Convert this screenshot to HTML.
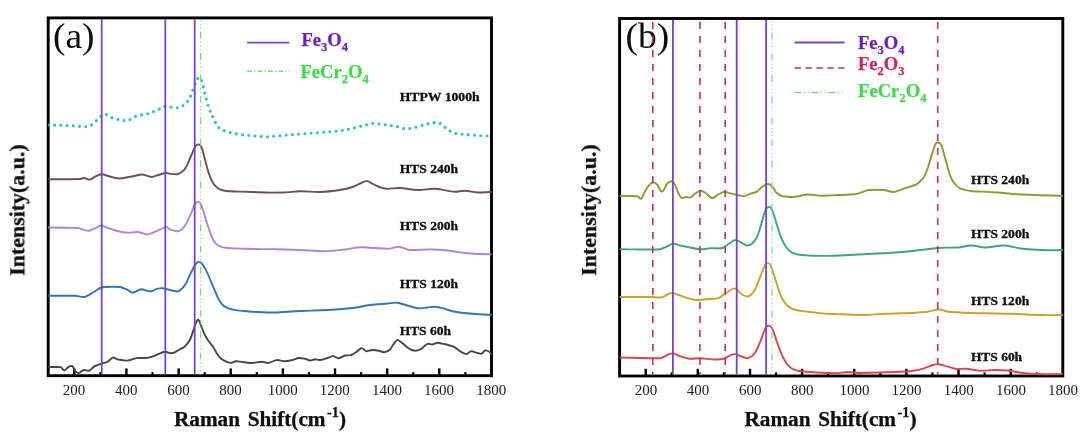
<!DOCTYPE html>
<html lang="en"><head><meta charset="utf-8"><title>Raman spectra</title>
<style>html,body{margin:0;padding:0;background:#fff;overflow:hidden}svg{display:block}</style>
</head><body>
<svg width="1080" height="434" viewBox="0 0 1080 434">
<rect width="1080" height="434" fill="#fff"/>
<defs><clipPath id="cl"><rect x="48.2" y="17.9" width="443.3" height="357.8"/></clipPath><clipPath id="cr"><rect x="619.6" y="18.5" width="443.2" height="357.5"/></clipPath><filter id="soft" x="0" y="0" width="1080" height="434" filterUnits="userSpaceOnUse"><feGaussianBlur stdDeviation="0.45"/></filter></defs>
<g filter="url(#soft)">
<g id="left">
<g fill="#000"><rect x="73.1" y="368.4" width="2.4" height="6.5"/><rect x="125.2" y="368.4" width="2.4" height="6.5"/><rect x="177.4" y="368.4" width="2.4" height="6.5"/><rect x="229.5" y="368.4" width="2.4" height="6.5"/><rect x="281.7" y="368.4" width="2.4" height="6.5"/><rect x="333.8" y="368.4" width="2.4" height="6.5"/><rect x="386.0" y="368.4" width="2.4" height="6.5"/><rect x="438.1" y="368.4" width="2.4" height="6.5"/><rect x="99.3" y="372.1" width="2.2" height="3.0"/><rect x="151.4" y="372.1" width="2.2" height="3.0"/><rect x="203.6" y="372.1" width="2.2" height="3.0"/><rect x="255.7" y="372.1" width="2.2" height="3.0"/><rect x="307.9" y="372.1" width="2.2" height="3.0"/><rect x="360.0" y="372.1" width="2.2" height="3.0"/><rect x="412.2" y="372.1" width="2.2" height="3.0"/><rect x="464.3" y="372.1" width="2.2" height="3.0"/></g>
<rect x="48.2" y="17.9" width="443.3" height="357.8" fill="none" stroke="#000" stroke-width="2.9"/>
<path d="M48.3 366.9C50.5 366.9 52.8 367.0 55.0 367.0C56.9 367.0 58.7 367.1 60.6 367.1C61.9 367.1 63.1 370.7 64.4 370.6C65.6 370.5 66.9 367.8 68.1 367.1C69.6 366.3 71.0 365.4 72.5 366.2C73.3 366.8 74.2 369.7 75.0 370.6C76.2 372.0 77.5 373.2 78.8 373.1C80.4 372.9 82.1 370.3 83.8 370.0C85.6 369.6 87.5 371.5 89.4 370.6C91.3 369.7 93.1 366.7 95.0 366.0C97.1 365.2 99.2 364.4 101.2 363.8C103.3 363.1 105.4 362.6 107.5 361.9C109.4 361.3 111.2 357.6 113.1 357.5C114.6 357.4 116.0 359.1 117.5 359.4C120.8 360.1 124.2 360.9 127.5 360.6C130.4 360.3 133.3 358.5 136.2 358.1C140.0 357.6 143.8 358.4 147.5 357.8C150.0 357.3 152.5 356.6 155.0 355.6C156.7 354.9 158.3 354.0 160.0 353.3C161.7 352.6 163.3 352.0 165.0 351.8C166.7 351.5 168.3 353.2 170.0 353.2C171.6 353.2 173.2 353.2 174.8 352.3C176.4 351.4 178.1 350.4 179.7 349.5C181.0 348.8 182.4 348.1 183.7 347.4C185.0 346.7 186.4 344.8 187.7 343.1C188.8 341.7 189.9 340.5 191.0 337.4C191.8 335.1 192.6 332.6 193.4 330.2C194.1 328.1 194.8 325.8 195.5 323.7C196.1 321.8 196.8 320.8 197.4 320.1C197.9 319.5 198.5 319.2 199.0 320.5C199.5 321.8 200.1 323.1 200.6 324.5C201.4 326.6 202.3 328.9 203.1 331.0C204.2 333.7 205.2 335.6 206.3 337.4C207.4 339.2 208.4 340.8 209.5 342.3C210.6 343.8 211.6 344.7 212.7 346.3C213.8 347.9 214.9 350.1 216.0 351.9C217.3 354.0 218.7 356.2 220.0 357.6C221.6 359.3 223.2 360.0 224.8 360.8C226.7 361.8 228.6 362.8 230.5 362.9C232.4 363.0 234.2 361.2 236.1 361.3C237.4 361.4 238.7 361.5 240.0 361.6C243.3 362.0 246.7 362.7 250.0 363.0C254.2 363.4 258.3 361.7 262.5 361.8C264.2 361.8 265.8 363.0 267.5 363.0C270.8 363.0 274.2 360.0 277.5 360.0C280.0 360.0 282.5 361.5 285.0 361.2C287.5 361.0 290.0 360.6 292.5 360.0C294.6 359.5 296.7 358.3 298.8 358.0C300.8 357.7 302.9 358.3 305.0 358.8C306.7 359.1 308.3 360.3 310.0 360.5C311.7 360.7 313.3 359.3 315.0 359.2C316.7 359.2 318.3 360.3 320.0 360.0C322.5 359.5 325.0 358.7 327.5 358.0C329.2 357.5 330.8 356.7 332.5 356.2C334.6 355.7 336.7 358.6 338.8 358.2C340.8 357.9 342.9 356.0 345.0 355.5C347.1 355.0 349.2 355.9 351.2 355.0C352.9 354.3 354.6 353.1 356.2 352.0C357.9 350.9 359.6 349.1 361.2 348.2C362.9 347.4 364.6 351.3 366.2 351.2C368.3 351.2 370.4 349.9 372.5 350.0C374.6 350.1 376.7 350.4 378.8 350.8C380.0 351.0 381.2 351.7 382.5 352.0C385.0 352.6 387.5 351.9 390.0 349.5C391.2 348.3 392.5 345.3 393.8 343.8C395.2 342.0 396.6 339.3 398.0 340.0C399.5 340.7 401.0 342.0 402.5 343.2C404.2 344.6 405.8 346.2 407.5 347.5C410.0 349.5 412.5 350.5 415.0 350.8C417.1 350.9 419.2 349.9 421.2 348.8C423.3 347.6 425.4 344.4 427.5 343.8C429.2 343.2 430.8 344.8 432.5 344.5C434.3 344.2 436.2 342.5 438.0 342.8C440.3 343.1 442.7 343.7 445.0 344.2C447.5 344.9 450.0 345.4 452.5 346.2C455.0 347.1 457.5 349.7 460.0 351.2C462.1 352.5 464.2 353.6 466.2 354.2C467.9 354.7 469.6 350.9 471.2 351.2C473.3 351.7 475.4 352.5 477.5 353.0C478.8 353.3 480.0 353.6 481.2 353.8C482.5 353.9 483.8 350.8 485.0 350.5C487.2 349.9 489.3 351.2 491.5 353.8" fill="none" stroke="#464646" stroke-width="1.9" stroke-linejoin="round" stroke-linecap="round" clip-path="url(#cl)" />
<path d="M48.3 295.8C52.9 295.8 57.4 295.8 62.0 295.8C66.3 295.8 70.7 295.8 75.0 295.8C78.3 295.8 81.7 297.8 85.0 296.8C87.9 295.8 90.8 293.7 93.8 292.0C96.2 290.6 98.8 288.5 101.2 287.5C103.3 286.7 105.4 287.1 107.5 287.0C111.7 286.9 115.8 286.6 120.0 287.0C122.1 287.2 124.2 288.4 126.2 289.2C128.2 290.1 130.1 291.9 132.0 292.5C135.1 293.5 138.2 289.3 141.2 289.2C144.6 289.2 147.9 291.9 151.2 291.2C153.3 290.9 155.4 289.2 157.5 288.8C159.2 288.4 160.8 287.9 162.5 288.2C165.0 288.8 167.5 289.4 170.0 290.0C172.2 290.5 174.3 291.0 176.5 291.4C178.4 291.8 180.2 290.3 182.1 288.5C183.7 286.9 185.3 284.9 186.9 281.6C188.3 278.8 189.6 275.5 191.0 272.7C192.1 270.5 193.1 268.3 194.2 266.3C195.0 264.8 195.8 263.9 196.6 263.1C197.4 262.3 198.2 261.9 199.0 261.9C199.8 261.9 200.7 262.1 201.5 263.1C202.6 264.3 203.6 265.9 204.7 267.9C206.0 270.4 207.4 272.8 208.7 276.0C210.0 279.2 211.4 282.4 212.7 285.6C214.1 288.9 215.4 292.1 216.8 295.3C218.1 298.4 219.5 300.7 220.8 302.6C222.1 304.5 223.5 305.9 224.8 306.6C227.0 307.8 229.1 308.8 231.3 309.2C234.2 309.7 237.1 310.3 240.0 310.6C244.2 311.0 248.3 311.5 252.5 311.8C260.0 312.3 267.5 312.8 275.0 312.5C281.7 312.3 288.3 311.6 295.0 311.2C305.8 310.8 316.7 310.5 327.5 310.0C335.8 309.6 344.2 308.9 352.5 308.0C358.3 307.4 364.2 305.7 370.0 305.0C375.8 304.3 381.7 304.0 387.5 303.5C391.2 303.2 395.0 301.9 398.8 303.0C401.7 303.8 404.6 304.7 407.5 305.5C410.4 306.3 413.3 307.2 416.2 308.0C420.0 309.1 423.8 307.8 427.5 307.5C430.0 307.3 432.5 306.7 435.0 306.8C437.5 306.8 440.0 307.6 442.5 308.2C445.8 309.1 449.2 310.6 452.5 311.2C459.2 312.5 465.8 313.2 472.5 313.8C478.8 314.3 485.2 314.8 491.5 315.0" fill="none" stroke="#2f74bc" stroke-width="1.9" stroke-linejoin="round" stroke-linecap="round" clip-path="url(#cl)" />
<path d="M48.3 227.5C53.9 227.5 59.4 227.6 65.0 227.7C69.2 227.8 73.3 227.9 77.5 228.0C81.7 228.1 85.8 232.2 90.0 230.5C92.0 229.7 94.0 228.7 96.0 227.8C97.8 227.0 99.5 225.9 101.2 225.5C102.8 225.1 104.4 226.8 106.0 227.3C108.2 228.0 110.3 228.8 112.5 229.5C116.7 230.9 120.8 231.8 125.0 232.5C129.2 233.2 133.3 231.9 137.5 232.0C141.2 232.1 145.0 235.5 148.8 234.2C152.1 233.1 155.4 231.5 158.8 230.0C161.1 229.0 163.4 227.6 165.8 226.8C167.2 226.3 168.6 228.8 170.0 229.4C172.2 230.3 174.3 231.1 176.5 231.3C178.4 231.5 180.2 230.5 182.1 228.9C183.7 227.5 185.3 225.5 186.9 222.4C188.3 219.7 189.6 216.6 191.0 213.5C192.1 211.0 193.1 207.9 194.2 205.5C195.0 203.7 195.8 203.1 196.6 202.4C197.4 201.7 198.2 201.5 199.0 201.9C199.8 202.3 200.7 203.2 201.5 205.5C202.3 207.7 203.1 210.1 203.9 212.7C205.0 216.2 206.0 219.8 207.1 223.2C208.2 226.6 209.2 229.8 210.3 232.9C211.4 236.0 212.4 238.4 213.5 240.2C214.9 242.6 216.2 244.2 217.6 245.0C219.5 246.1 221.3 247.1 223.2 247.4C225.9 247.8 228.6 248.2 231.3 248.3C234.2 248.4 237.1 248.5 240.0 248.6C244.2 248.7 248.3 248.9 252.5 249.0C260.8 249.2 269.2 249.1 277.5 249.2C285.0 249.4 292.5 249.7 300.0 250.0C307.5 250.3 315.0 251.1 322.5 251.2C330.0 251.4 337.5 250.2 345.0 249.5C350.8 248.9 356.7 246.9 362.5 247.2C366.7 247.5 370.8 247.8 375.0 248.0C379.2 248.2 383.3 248.5 387.5 248.8C391.2 249.0 395.0 246.7 398.8 246.8C402.5 246.8 406.2 249.9 410.0 250.0C417.5 250.2 425.0 249.1 432.5 249.5C438.3 249.8 444.2 250.1 450.0 250.8C455.0 251.3 460.0 252.5 465.0 253.0C473.8 253.9 482.7 254.3 491.5 254.2" fill="none" stroke="#ad86d5" stroke-width="1.9" stroke-linejoin="round" stroke-linecap="round" clip-path="url(#cl)" />
<path d="M48.3 179.2C53.9 179.3 59.4 179.2 65.0 179.2C70.0 179.2 75.0 179.1 80.0 179.0C81.2 179.0 82.5 178.2 83.8 178.0C85.8 177.7 87.9 180.2 90.0 179.5C92.1 178.8 94.2 177.1 96.2 176.2C98.2 175.4 100.1 174.0 102.0 174.2C104.2 174.5 106.5 175.7 108.8 176.2C112.1 177.1 115.4 178.5 118.8 178.5C122.5 178.5 126.2 177.4 130.0 176.8C133.8 176.1 137.5 175.1 141.2 174.5C145.0 173.9 148.8 177.7 152.5 176.8C155.0 176.1 157.5 175.2 160.0 174.5C161.9 174.0 163.8 173.3 165.8 173.0C167.2 172.8 168.6 173.7 170.0 173.9C172.2 174.2 174.3 174.3 176.5 174.3C178.4 174.3 180.2 173.1 182.1 171.8C183.7 170.6 185.3 169.2 186.9 165.6C188.3 162.5 189.6 159.2 191.0 156.0C192.1 153.5 193.1 151.1 194.2 148.7C195.0 146.9 195.8 145.9 196.6 145.1C197.3 144.4 198.0 144.3 198.7 144.4C199.5 144.5 200.2 145.0 201.0 146.3C201.7 147.5 202.4 149.3 203.1 151.9C203.9 154.9 204.7 158.6 205.5 161.6C206.6 165.6 207.6 169.5 208.7 172.9C209.8 176.3 210.8 179.0 211.9 181.0C213.3 183.6 214.6 185.5 216.0 186.6C217.9 188.1 219.7 189.6 221.6 190.0C224.3 190.6 227.0 191.2 229.7 191.3C233.1 191.4 236.6 191.5 240.0 191.6C248.3 191.9 256.7 192.2 265.0 192.5C270.8 192.7 276.7 192.6 282.5 192.5C288.3 192.4 294.2 191.4 300.0 191.2C306.7 191.0 313.3 192.2 320.0 192.0C326.7 191.8 333.3 191.0 340.0 190.0C344.2 189.4 348.3 188.4 352.5 187.0C355.4 186.0 358.3 184.2 361.2 183.0C363.3 182.1 365.4 180.7 367.5 181.2C369.6 181.8 371.7 183.5 373.8 184.5C376.7 185.8 379.6 187.5 382.5 188.2C388.3 189.7 394.2 187.6 400.0 188.0C405.8 188.4 411.7 189.7 417.5 190.0C423.3 190.3 429.2 188.6 435.0 188.8C441.7 188.9 448.3 191.5 455.0 191.8C458.3 191.9 461.7 190.6 465.0 190.8C469.2 190.9 473.3 192.4 477.5 192.5C482.2 192.7 486.8 192.5 491.5 191.8" fill="none" stroke="#6e5058" stroke-width="1.9" stroke-linejoin="round" stroke-linecap="round" clip-path="url(#cl)" />
<path d="M48.3 125.0C52.2 125.1 56.1 125.2 60.0 125.3C64.0 125.4 68.0 125.6 72.0 125.8C76.3 126.0 80.7 126.5 85.0 126.8C87.5 126.9 90.0 126.4 92.5 124.2C94.3 122.7 96.2 120.7 98.0 119.0C99.5 117.6 101.0 116.2 102.5 115.0C103.7 114.0 104.8 114.1 106.0 114.5C108.2 115.2 110.3 117.4 112.5 118.0C115.0 118.7 117.5 119.3 120.0 119.8C122.5 120.3 125.0 120.9 127.5 120.8C129.6 120.6 131.7 117.7 133.8 117.0C135.8 116.3 137.9 115.7 140.0 115.2C142.5 114.6 145.0 114.4 147.5 113.8C150.8 112.8 154.2 111.3 157.5 110.0C160.0 109.0 162.5 106.8 165.0 106.2C167.5 105.7 170.0 107.3 172.5 107.5C175.0 107.7 177.5 108.0 180.0 107.5C181.7 107.2 183.3 105.3 185.0 103.8C186.7 102.2 188.3 101.4 190.0 97.5C191.2 94.6 192.5 90.7 193.8 87.5C194.6 85.3 195.4 83.3 196.2 81.2C197.3 78.6 198.4 77.3 199.5 77.5C200.5 77.7 201.5 79.9 202.5 83.8C203.3 86.9 204.2 90.6 205.0 93.8C206.2 98.5 207.5 103.8 208.8 107.5C210.0 111.2 211.2 113.6 212.5 116.2C213.8 118.9 215.0 121.6 216.2 123.8C217.9 126.7 219.6 128.7 221.2 129.5C224.2 130.8 227.1 131.9 230.0 132.5C233.3 133.2 236.7 134.1 240.0 134.5C244.2 135.0 248.3 135.4 252.5 135.8C257.5 136.2 262.5 137.1 267.5 136.8C271.7 136.5 275.8 136.1 280.0 135.8C285.0 135.3 290.0 134.9 295.0 134.5C303.3 133.8 311.7 133.2 320.0 132.5C328.3 131.8 336.7 131.5 345.0 130.0C350.8 129.0 356.7 127.1 362.5 125.8C365.8 125.0 369.2 123.9 372.5 123.5C375.8 123.1 379.2 124.1 382.5 124.5C386.7 125.0 390.8 125.6 395.0 126.2C398.3 126.8 401.7 128.4 405.0 128.8C408.3 129.1 411.7 128.4 415.0 127.5C418.3 126.6 421.7 125.4 425.0 124.5C428.3 123.6 431.7 123.0 435.0 122.5C437.0 122.2 439.0 122.7 441.0 123.8C443.2 124.9 445.3 128.3 447.5 129.5C450.8 131.4 454.2 133.3 457.5 133.8C461.7 134.3 465.8 134.7 470.0 135.0C477.2 135.5 484.3 136.0 491.5 136.2" fill="none" stroke="#2cc4c8" stroke-width="3.1" stroke-linejoin="round" stroke-linecap="round" clip-path="url(#cl)" stroke-dasharray="0.01 6.25"/>
<text x="53.0" y="48" font-family="'Liberation Serif','Times New Roman',serif" font-size="36" fill="#0b0b0b" textLength="41.6" lengthAdjust="spacingAndGlyphs">(a)</text>
<line x1="247" y1="42.6" x2="289.3" y2="42.6" stroke="#7a42cc" stroke-width="1.9"/>
<line x1="247.3" y1="71.3" x2="289.6" y2="71.3" stroke="#6fdc80" stroke-width="1.4" stroke-dasharray="4.6 2.3 1.2 2.3"/>
<text x="301.4" y="45.7" font-family="'Liberation Serif','Times New Roman',serif" font-weight="bold" font-size="17.9" fill="#6a1fc6" stroke="#6a1fc6" stroke-width="0.25" textLength="46.6" lengthAdjust="spacingAndGlyphs">Fe<tspan font-size="12" dy="5">3</tspan><tspan dy="-5">O</tspan><tspan font-size="12" dy="5">4</tspan></text>
<text x="300.4" y="77.6" font-family="'Liberation Serif','Times New Roman',serif" font-weight="bold" font-size="17.9" fill="#3fd947" stroke="#3fd947" stroke-width="0.25" textLength="68.4" lengthAdjust="spacingAndGlyphs">FeCr<tspan font-size="12" dy="5">2</tspan><tspan dy="-5">O</tspan><tspan font-size="12" dy="5">4</tspan></text>
<text x="399.7" y="100.8" font-family="'Liberation Serif','Times New Roman',serif" font-weight="bold" font-size="13.3" fill="#0b0b0b" stroke="#0b0b0b" stroke-width="0.3" textLength="80.0" lengthAdjust="spacingAndGlyphs">HTPW 1000h</text>
<text x="399.7" y="173.0" font-family="'Liberation Serif','Times New Roman',serif" font-weight="bold" font-size="13.3" fill="#0b0b0b" stroke="#0b0b0b" stroke-width="0.3" textLength="58.3" lengthAdjust="spacingAndGlyphs">HTS 240h</text>
<text x="399.7" y="230.0" font-family="'Liberation Serif','Times New Roman',serif" font-weight="bold" font-size="13.3" fill="#0b0b0b" stroke="#0b0b0b" stroke-width="0.3" textLength="58.3" lengthAdjust="spacingAndGlyphs">HTS 200h</text>
<text x="399.7" y="287.7" font-family="'Liberation Serif','Times New Roman',serif" font-weight="bold" font-size="13.3" fill="#0b0b0b" stroke="#0b0b0b" stroke-width="0.3" textLength="58.3" lengthAdjust="spacingAndGlyphs">HTS 120h</text>
<text x="399.7" y="335.0" font-family="'Liberation Serif','Times New Roman',serif" font-weight="bold" font-size="13.3" fill="#0b0b0b" stroke="#0b0b0b" stroke-width="0.3" textLength="51.2" lengthAdjust="spacingAndGlyphs">HTS 60h</text>
<line x1="101.7" y1="19.3" x2="101.7" y2="374.2" stroke="#7a42cc" stroke-width="1.8"/>
<line x1="165.3" y1="19.3" x2="165.3" y2="374.2" stroke="#7a42cc" stroke-width="1.8"/>
<line x1="194.7" y1="19.3" x2="194.7" y2="374.2" stroke="#7a42cc" stroke-width="1.8"/>
<line x1="200.6" y1="19.3" x2="200.6" y2="374.2" stroke="#6fdc80" stroke-width="1.2" stroke-dasharray="6.9 3.1 1 2.6 1 2.6 1 3.2" stroke-dashoffset="9"/>
<g font-family="'Liberation Serif','Times New Roman',serif" font-size="15" fill="#1a1a1a" text-anchor="middle"><text x="74.1" y="394.9">200</text><text x="126.2" y="394.9">400</text><text x="178.4" y="394.9">600</text><text x="230.5" y="394.9">800</text><text x="282.7" y="394.9">1000</text><text x="334.8" y="394.9">1200</text><text x="387.0" y="394.9">1400</text><text x="439.1" y="394.9">1600</text><text x="491.3" y="394.9">1800</text></g>
<text x="174.0" y="425.5" font-family="'Liberation Serif','Times New Roman',serif" font-weight="bold" font-size="20.8" fill="#0b0b0b" stroke="#0b0b0b" stroke-width="0.25" word-spacing="2.3" textLength="172.1" lengthAdjust="spacingAndGlyphs">Raman Shift(cm<tspan dx="1.6" dy="-8.7" font-size="14">-1</tspan><tspan dy="8.7">)</tspan></text>
<text transform="translate(24.3 210.1) rotate(-90)" text-anchor="middle" font-family="'Liberation Serif','Times New Roman',serif" font-weight="bold" font-size="20.8" fill="#0b0b0b" stroke="#0b0b0b" stroke-width="0.25" textLength="131.6" lengthAdjust="spacingAndGlyphs">Intensity(a.u.)</text>
</g>
<g id="right">
<g fill="#000"><rect x="644.5" y="368.8" width="2.4" height="6.5"/><rect x="696.6" y="368.8" width="2.4" height="6.5"/><rect x="748.8" y="368.8" width="2.4" height="6.5"/><rect x="800.9" y="368.8" width="2.4" height="6.5"/><rect x="853.0" y="368.8" width="2.4" height="6.5"/><rect x="905.2" y="368.8" width="2.4" height="6.5"/><rect x="957.3" y="368.8" width="2.4" height="6.5"/><rect x="1009.5" y="368.8" width="2.4" height="6.5"/><rect x="670.6" y="372.4" width="2.2" height="3.0"/><rect x="722.8" y="372.4" width="2.2" height="3.0"/><rect x="774.9" y="372.4" width="2.2" height="3.0"/><rect x="827.1" y="372.4" width="2.2" height="3.0"/><rect x="879.2" y="372.4" width="2.2" height="3.0"/><rect x="931.3" y="372.4" width="2.2" height="3.0"/><rect x="983.5" y="372.4" width="2.2" height="3.0"/><rect x="1035.6" y="372.4" width="2.2" height="3.0"/></g>
<rect x="619.6" y="18.5" width="443.2" height="357.5" fill="none" stroke="#000" stroke-width="2.9"/>
<path d="M619.7 357.5C626.5 357.7 633.2 357.8 640.0 358.0C646.7 358.2 653.3 358.4 660.0 358.2C662.5 358.2 665.0 356.0 667.5 355.0C669.3 354.3 671.2 353.3 673.0 353.2C675.3 353.2 677.7 355.5 680.0 356.2C683.3 357.3 686.7 358.5 690.0 358.8C693.3 359.0 696.7 358.1 700.0 358.2C705.0 358.4 710.0 359.3 715.0 359.5C717.9 359.6 720.8 359.5 723.8 358.8C725.8 358.2 727.9 356.3 730.0 355.5C731.9 354.7 733.8 353.7 735.8 354.2C737.2 354.6 738.6 355.5 740.0 356.0C742.2 356.8 744.3 357.5 746.5 358.1C748.4 358.6 750.2 357.4 752.1 356.0C753.7 354.8 755.3 352.8 756.9 349.5C758.3 346.7 759.6 343.3 761.0 339.8C762.1 337.1 763.1 333.7 764.2 331.0C765.0 329.0 765.8 327.6 766.6 326.6C767.3 325.7 768.0 325.6 768.7 325.6C769.6 325.6 770.6 326.0 771.5 327.4C772.3 328.6 773.1 330.3 773.9 332.6C775.0 335.7 776.0 339.2 777.1 342.3C778.2 345.4 779.2 348.3 780.3 351.1C781.7 354.6 783.0 357.5 784.4 360.0C785.7 362.4 787.1 364.3 788.4 365.6C790.0 367.2 791.6 368.6 793.2 369.2C795.4 370.0 797.5 370.8 799.7 371.0C803.1 371.4 806.6 371.8 810.0 372.0C812.5 372.2 815.0 372.3 817.5 372.5C823.3 372.9 829.2 373.1 835.0 373.2C839.2 373.4 843.3 372.0 847.5 372.0C851.7 372.0 855.8 373.1 860.0 373.0C865.8 372.8 871.7 372.7 877.5 372.5C883.3 372.3 889.2 372.2 895.0 372.0C900.0 371.9 905.0 371.6 910.0 371.2C914.2 371.0 918.3 369.9 922.5 368.8C925.8 367.9 929.2 366.0 932.5 365.0C934.3 364.5 936.2 364.0 938.0 364.2C940.3 364.5 942.7 365.1 945.0 365.8C948.3 366.6 951.7 368.1 955.0 368.8C958.8 369.5 962.5 368.4 966.2 368.8C970.8 369.2 975.4 370.6 980.0 370.8C985.0 370.9 990.0 370.0 995.0 370.0C999.2 370.0 1003.3 370.1 1007.5 370.5C1012.5 371.0 1017.5 372.4 1022.5 373.0C1026.7 373.5 1030.8 373.8 1035.0 374.0C1044.3 374.4 1053.7 374.4 1063.0 374.1" fill="none" stroke="#d6484d" stroke-width="1.9" stroke-linejoin="round" stroke-linecap="round" clip-path="url(#cr)" />
<path d="M619.7 297.0C624.8 297.0 629.9 297.0 635.0 297.0C640.0 297.0 645.0 297.0 650.0 297.0C653.8 297.0 657.5 297.7 661.2 297.5C663.3 297.4 665.4 295.3 667.5 294.5C669.2 293.8 670.8 292.7 672.5 293.0C674.6 293.4 676.7 294.3 678.8 295.0C681.7 296.0 684.6 297.3 687.5 298.2C691.2 299.5 695.0 300.2 698.8 300.0C702.5 299.8 706.2 299.4 710.0 299.0C712.9 298.7 715.8 299.4 718.8 298.0C720.8 297.0 722.9 295.2 725.0 293.8C727.5 292.1 730.0 290.4 732.5 288.8C734.2 287.7 735.8 288.7 737.5 290.0C738.3 290.7 739.2 292.2 740.0 292.9C742.2 294.8 744.3 296.1 746.5 296.5C748.1 296.8 749.7 296.0 751.3 294.5C752.9 293.0 754.5 291.4 756.1 287.3C757.5 283.8 758.8 280.3 760.2 276.8C761.3 274.1 762.3 271.4 763.4 268.7C764.2 266.7 765.0 265.5 765.8 264.4C766.6 263.3 767.4 263.0 768.2 263.1C769.0 263.2 769.8 263.8 770.6 265.5C771.4 267.2 772.3 269.2 773.1 271.9C774.2 275.3 775.2 279.0 776.3 282.4C777.4 285.8 778.4 289.0 779.5 292.1C780.6 295.2 781.6 297.5 782.7 299.4C784.1 301.8 785.4 303.7 786.8 305.0C788.4 306.5 790.0 307.9 791.6 308.5C794.3 309.5 797.0 310.5 799.7 310.8C803.1 311.2 806.6 311.6 810.0 312.0C815.8 312.6 821.7 313.5 827.5 313.8C834.2 314.1 840.8 314.3 847.5 314.5C852.5 314.7 857.5 314.9 862.5 315.0C870.0 315.2 877.5 314.0 885.0 313.8C893.3 313.4 901.7 313.3 910.0 313.0C915.8 312.8 921.7 312.2 927.5 311.8C931.2 311.4 935.0 309.6 938.8 309.5C942.5 309.4 946.2 311.8 950.0 312.0C957.5 312.4 965.0 312.8 972.5 313.0C985.0 313.3 997.5 313.4 1010.0 313.8C1020.0 314.0 1030.0 314.7 1040.0 315.0C1047.7 315.2 1055.3 315.2 1063.0 315.0" fill="none" stroke="#c9a22e" stroke-width="1.9" stroke-linejoin="round" stroke-linecap="round" clip-path="url(#cr)" />
<path d="M619.7 249.2C624.8 249.3 629.9 249.4 635.0 249.4C639.2 249.4 643.3 249.5 647.5 249.5C651.7 249.5 655.8 249.9 660.0 249.2C662.5 248.9 665.0 247.3 667.5 246.2C669.3 245.5 671.2 243.9 673.0 243.8C675.3 243.5 677.7 245.0 680.0 245.5C683.3 246.2 686.7 246.8 690.0 247.5C693.3 248.2 696.7 248.9 700.0 249.2C703.3 249.6 706.7 248.5 710.0 248.2C714.2 247.9 718.3 249.1 722.5 248.0C724.6 247.5 726.7 245.0 728.8 243.8C731.1 242.3 733.4 239.7 735.8 240.0C737.2 240.2 738.6 241.2 740.0 241.9C742.2 243.0 744.3 244.3 746.5 245.3C748.1 246.0 749.7 245.1 751.3 244.2C752.9 243.3 754.5 241.3 756.1 238.5C757.2 236.6 758.3 234.2 759.4 230.5C760.5 226.9 761.5 222.9 762.6 219.2C763.4 216.4 764.2 213.6 765.0 211.1C765.8 208.6 766.6 208.2 767.4 207.6C768.2 207.0 769.0 206.8 769.8 207.1C770.6 207.4 771.5 208.0 772.3 210.3C773.1 212.5 773.9 215.0 774.7 217.6C775.5 220.2 776.3 223.0 777.1 225.6C778.2 229.1 779.2 232.3 780.3 235.3C781.7 239.1 783.0 241.8 784.4 244.2C785.7 246.5 787.1 248.5 788.4 249.8C790.0 251.3 791.6 252.5 793.2 253.1C795.4 253.9 797.5 254.6 799.7 254.8C803.1 255.2 806.6 255.5 810.0 255.6C818.3 255.8 826.7 256.1 835.0 255.8C847.5 255.2 860.0 254.5 872.5 253.8C885.0 253.0 897.5 252.6 910.0 251.2C915.0 250.7 920.0 250.1 925.0 249.5C929.2 249.0 933.3 248.5 937.5 248.0C944.2 247.2 950.8 247.9 957.5 247.5C962.1 247.2 966.7 245.7 971.2 245.5C975.8 245.3 980.4 247.4 985.0 247.5C991.7 247.6 998.3 244.9 1005.0 245.5C1010.8 246.1 1016.7 248.2 1022.5 248.8C1028.3 249.3 1034.2 249.8 1040.0 250.0C1047.7 250.2 1055.3 250.3 1063.0 250.0" fill="none" stroke="#3da67e" stroke-width="1.9" stroke-linejoin="round" stroke-linecap="round" clip-path="url(#cr)" />
<path d="M619.7 195.8C623.1 195.8 626.6 195.9 630.0 196.0C632.5 196.1 635.0 196.2 637.5 196.2C638.8 196.3 640.0 199.6 641.2 198.8C642.5 197.9 643.8 193.2 645.0 191.2C646.7 188.7 648.3 186.0 650.0 184.2C651.2 182.9 652.5 182.4 653.8 182.5C655.0 182.6 656.2 183.7 657.5 185.0C658.8 186.3 660.0 190.3 661.2 191.2C662.1 191.9 662.9 191.2 663.8 190.0C664.8 188.5 665.9 185.1 667.0 183.8C668.4 182.0 669.8 181.2 671.2 181.2C672.3 181.3 673.4 181.9 674.5 183.8C675.7 185.8 676.8 190.3 678.0 192.5C679.3 195.1 680.7 197.8 682.0 198.0C683.4 198.2 684.8 197.0 686.2 197.0C687.7 197.0 689.1 198.1 690.5 197.5C692.0 196.8 693.5 194.8 695.0 193.8C696.7 192.6 698.3 191.2 700.0 190.8C701.7 190.3 703.3 191.7 705.0 192.5C707.5 193.8 710.0 198.1 712.5 198.0C714.6 197.9 716.7 195.1 718.8 194.2C721.0 193.3 723.2 191.4 725.5 192.0C727.8 192.6 730.2 193.2 732.5 193.8C735.8 194.6 739.2 195.4 742.5 196.2C745.0 196.9 747.5 194.5 750.0 193.8C752.1 193.1 754.2 192.8 756.2 192.0C757.9 191.4 759.6 188.8 761.2 187.5C763.2 186.0 765.1 184.9 767.0 184.2C768.7 183.7 770.3 184.6 772.0 186.2C773.4 187.6 774.8 191.2 776.2 192.5C778.3 194.4 780.4 195.9 782.5 196.2C786.7 196.9 790.8 197.2 795.0 196.8C799.2 196.3 803.3 194.6 807.5 194.5C812.5 194.4 817.5 195.9 822.5 195.8C828.3 195.5 834.2 195.3 840.0 195.0C845.0 194.8 850.0 194.5 855.0 194.2C859.6 194.0 864.2 190.5 868.8 190.0C873.8 189.4 878.8 189.7 883.8 190.0C887.5 190.2 891.2 192.8 895.0 191.8C898.3 190.8 901.7 189.4 905.0 188.2C908.3 187.1 911.7 186.1 915.0 185.0C917.5 184.2 920.0 181.6 922.5 178.8C924.2 176.8 925.8 173.8 927.5 168.8C928.8 165.0 930.0 160.3 931.2 156.2C932.5 152.2 933.8 148.3 935.0 145.0C936.1 142.1 937.2 142.4 938.2 142.5C939.4 142.6 940.6 142.5 941.8 146.2C942.8 149.7 943.9 153.6 945.0 157.5C946.2 162.0 947.5 166.9 948.8 171.2C950.4 177.1 952.1 180.4 953.8 182.5C956.2 185.7 958.8 188.0 961.2 188.8C965.0 189.8 968.8 191.0 972.5 191.2C980.8 191.7 989.2 191.8 997.5 192.5C1004.2 193.0 1010.8 193.9 1017.5 194.2C1025.0 194.7 1032.5 195.0 1040.0 195.2C1047.7 195.4 1055.3 195.6 1063.0 195.8" fill="none" stroke="#8f9a2a" stroke-width="1.9" stroke-linejoin="round" stroke-linecap="round" clip-path="url(#cr)" />
<text x="625.5" y="47.6" font-family="'Liberation Serif','Times New Roman',serif" font-size="36" fill="#0b0b0b" textLength="43.8" lengthAdjust="spacingAndGlyphs">(b)</text>
<line x1="794.5" y1="42.5" x2="844.5" y2="42.5" stroke="#7a42cc" stroke-width="1.9"/>
<line x1="794.5" y1="68" x2="844.5" y2="68" stroke="#c62c62" stroke-width="1.5" stroke-dasharray="6.5 4.4"/>
<line x1="794.5" y1="92.5" x2="844.5" y2="92.5" stroke="#6fdc80" stroke-width="1.5" stroke-dasharray="6.9 2.6 1.2 2.4 1.2 2.6"/>
<text x="858.0" y="48.9" font-family="'Liberation Serif','Times New Roman',serif" font-weight="bold" font-size="17.9" fill="#6a1fc6" stroke="#6a1fc6" stroke-width="0.25" textLength="46.6" lengthAdjust="spacingAndGlyphs">Fe<tspan font-size="12" dy="5">3</tspan><tspan dy="-5">O</tspan><tspan font-size="12" dy="5">4</tspan></text>
<text x="858.0" y="70.3" font-family="'Liberation Serif','Times New Roman',serif" font-weight="bold" font-size="17.9" fill="#d22364" stroke="#d22364" stroke-width="0.25" textLength="46.6" lengthAdjust="spacingAndGlyphs">Fe<tspan font-size="12" dy="5">2</tspan><tspan dy="-5">O</tspan><tspan font-size="12" dy="5">3</tspan></text>
<text x="858.0" y="97.2" font-family="'Liberation Serif','Times New Roman',serif" font-weight="bold" font-size="17.9" fill="#3fd947" stroke="#3fd947" stroke-width="0.25" textLength="68.4" lengthAdjust="spacingAndGlyphs">FeCr<tspan font-size="12" dy="5">2</tspan><tspan dy="-5">O</tspan><tspan font-size="12" dy="5">4</tspan></text>
<text x="970.9" y="183.8" font-family="'Liberation Serif','Times New Roman',serif" font-weight="bold" font-size="13.3" fill="#0b0b0b" stroke="#0b0b0b" stroke-width="0.3" textLength="58.3" lengthAdjust="spacingAndGlyphs">HTS 240h</text>
<text x="970.9" y="238.0" font-family="'Liberation Serif','Times New Roman',serif" font-weight="bold" font-size="13.3" fill="#0b0b0b" stroke="#0b0b0b" stroke-width="0.3" textLength="58.3" lengthAdjust="spacingAndGlyphs">HTS 200h</text>
<text x="970.9" y="305.0" font-family="'Liberation Serif','Times New Roman',serif" font-weight="bold" font-size="13.3" fill="#0b0b0b" stroke="#0b0b0b" stroke-width="0.3" textLength="58.3" lengthAdjust="spacingAndGlyphs">HTS 120h</text>
<text x="970.9" y="361.4" font-family="'Liberation Serif','Times New Roman',serif" font-weight="bold" font-size="13.3" fill="#0b0b0b" stroke="#0b0b0b" stroke-width="0.3" textLength="51.2" lengthAdjust="spacingAndGlyphs">HTS 60h</text>
<line x1="652.8" y1="22.0" x2="652.8" y2="374.6" stroke="#c62c62" stroke-width="1.6" stroke-dasharray="6.9 7.1"/>
<line x1="699.9" y1="22.0" x2="699.9" y2="374.6" stroke="#c62c62" stroke-width="1.6" stroke-dasharray="6.9 7.1"/>
<line x1="725.2" y1="22.0" x2="725.2" y2="374.6" stroke="#c62c62" stroke-width="1.6" stroke-dasharray="6.9 7.1"/>
<line x1="937.7" y1="22.0" x2="937.7" y2="374.6" stroke="#c62c62" stroke-width="1.6" stroke-dasharray="6.9 7.1"/>
<line x1="672.9" y1="19.9" x2="672.9" y2="374.6" stroke="#7a42cc" stroke-width="1.8"/>
<line x1="736.7" y1="19.9" x2="736.7" y2="374.6" stroke="#7a42cc" stroke-width="1.8"/>
<line x1="766.1" y1="19.9" x2="766.1" y2="374.6" stroke="#7a42cc" stroke-width="1.8"/>
<line x1="772.0" y1="19.9" x2="772.0" y2="374.6" stroke="#6fdc80" stroke-width="1.2" stroke-dasharray="6.9 3.1 1 2.6 1 2.6 1 3.2" stroke-dashoffset="9"/>
<g font-family="'Liberation Serif','Times New Roman',serif" font-size="15" fill="#1a1a1a" text-anchor="middle"><text x="645.9" y="395.3">200</text><text x="698.0" y="395.3">400</text><text x="750.2" y="395.3">600</text><text x="802.3" y="395.3">800</text><text x="854.4" y="395.3">1000</text><text x="906.6" y="395.3">1200</text><text x="958.7" y="395.3">1400</text><text x="1010.9" y="395.3">1600</text><text x="1063.0" y="395.3">1800</text></g>
<text x="744.5" y="425.6" font-family="'Liberation Serif','Times New Roman',serif" font-weight="bold" font-size="20.8" fill="#0b0b0b" stroke="#0b0b0b" stroke-width="0.25" word-spacing="2.3" textLength="172.1" lengthAdjust="spacingAndGlyphs">Raman Shift(cm<tspan dx="1.6" dy="-8.7" font-size="14">-1</tspan><tspan dy="8.7">)</tspan></text>
<text transform="translate(595.9 210.1) rotate(-90)" text-anchor="middle" font-family="'Liberation Serif','Times New Roman',serif" font-weight="bold" font-size="20.8" fill="#0b0b0b" stroke="#0b0b0b" stroke-width="0.25" textLength="131.6" lengthAdjust="spacingAndGlyphs">Intensity(a.u.)</text>
</g>
</g>
</svg>
</body></html>
